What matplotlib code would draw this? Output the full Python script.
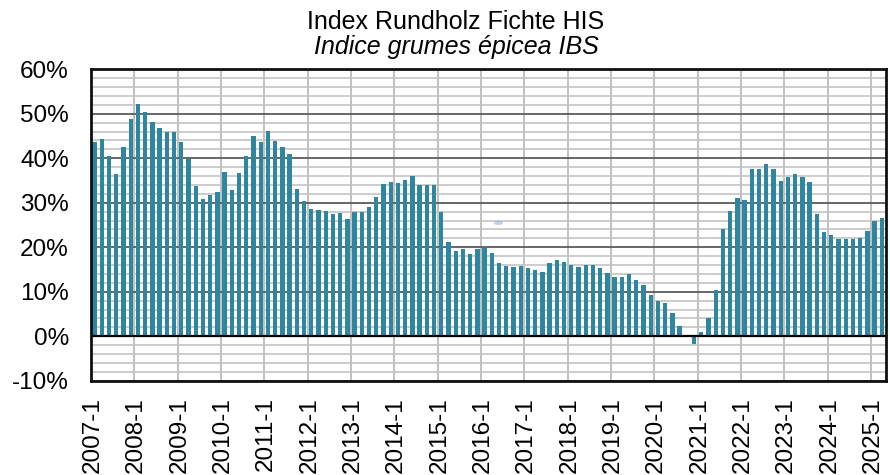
import numpy as np
import matplotlib
matplotlib.use("Agg")
import matplotlib.pyplot as plt
from matplotlib.patches import Ellipse

plt.rcParams['font.family'] = ['Liberation Sans', 'DejaVu Sans']

# Werte in %, alle zwei Monate (2007-1 ... 2025-3)
values = [
    43.7, 44.4, 40.6, 36.4, 42.6, 48.9,   # 2007
    52.3, 50.3, 48.2, 46.7, 45.9, 45.8,   # 2008
    43.7, 39.8, 33.8, 30.8, 31.8, 32.4,   # 2009
    36.9, 32.9, 36.6, 40.4, 44.9, 43.7,   # 2010
    46.1, 43.9, 42.6, 41.0, 33.2, 30.5,   # 2011
    28.7, 28.3, 28.1, 27.5, 27.6, 26.3,   # 2012
    27.9, 27.9, 29.0, 31.4, 34.2, 34.7,   # 2013
    34.4, 35.2, 36.1, 34.1, 33.9, 33.9,   # 2014
    27.9, 21.2, 19.1, 19.5, 18.5, 19.7,   # 2015
    19.8, 18.6, 16.4, 15.8, 15.5, 15.8,   # 2016
    15.4, 14.9, 14.4, 16.4, 17.1, 16.7,   # 2017
    16.1, 15.5, 16.1, 16.1, 15.4, 14.2,   # 2018
    13.4, 13.4, 13.9, 12.7, 11.5, 9.2,    # 2019
    7.9, 7.4, 5.3, 2.2, 0.0, -1.8,        # 2020
    1.05, 4.1, 10.4, 24.2, 28.1, 31.0,    # 2021
    30.6, 37.7, 37.7, 38.8, 37.7, 34.9,   # 2022
    35.9, 36.4, 35.7, 34.6, 27.5, 23.4,   # 2023
    22.8, 21.8, 21.8, 21.8, 22.1, 23.6,   # 2024
    25.8, 26.6,                           # 2025
]
years = list(range(2007, 2026))
tick_labels = [f"{y}-1" for y in years]

title_de = "Index Rundholz Fichte HIS"
title_fr = "Indice grumes épicea IBS"

bar_color = '#2f879f'

fig = plt.figure(figsize=(8.9, 4.75), dpi=100)
ax = fig.add_axes([91 / 890, (475 - 380.7) / 475, (885.5 - 91) / 890, (380.7 - 69.3) / 475])

x = np.arange(len(values))
ax.bar(x, values, width=0.6, color=bar_color, zorder=3)

ax.set_xlim(-0.5, len(values) - 0.5)
ax.set_ylim(-10, 60)

# y-Achse
ax.set_yticks(np.arange(-10, 61, 10))
ax.set_yticks(np.arange(-10, 61, 2), minor=True)
ax.set_yticklabels([f"{v}%" for v in range(-10, 61, 10)], fontsize=17.5)
ax.tick_params(axis='y', which='both', length=0, pad=16)
ax.grid(axis='y', which='minor', color='#c4c4c4', lw=1.2, zorder=1)
ax.grid(axis='y', which='major', color='#5a5a5a', lw=1.3, zorder=2)
ax.axhline(0, color='black', lw=1.6, zorder=4)

# x-Achse: Jahresgrenzen
for k in range(1, len(years)):
    ax.axvline(6 * k - 0.5, color='#b5b5b5', lw=1.2, zorder=1.5)
ax.set_xticks([6 * k - 0.25 for k in range(len(years))])
ax.set_xticklabels(tick_labels, rotation=90, fontsize=17.5, va='top', ha='center')
ax.tick_params(axis='x', length=0, pad=12)

for side in ['left', 'top', 'bottom', 'right']:
    ax.spines[side].set_linewidth(2)
    ax.spines[side].set_color('#111111')
    ax.spines[side].set_zorder(5)

# kleiner Fleck im Original
ax.add_patch(Ellipse((55.9, 25.5), 1.3, 1.0, color='#9fb3dd', alpha=0.6, lw=0, zorder=2.5))

fig.text(456 / 890, 1 - 22 / 475, title_de, ha='center', va='center', fontsize=18)
fig.text(456 / 890, 1 - 47 / 475, title_fr, ha='center', va='center', fontsize=18, style='italic')

fig.savefig("out.png", dpi=100)
